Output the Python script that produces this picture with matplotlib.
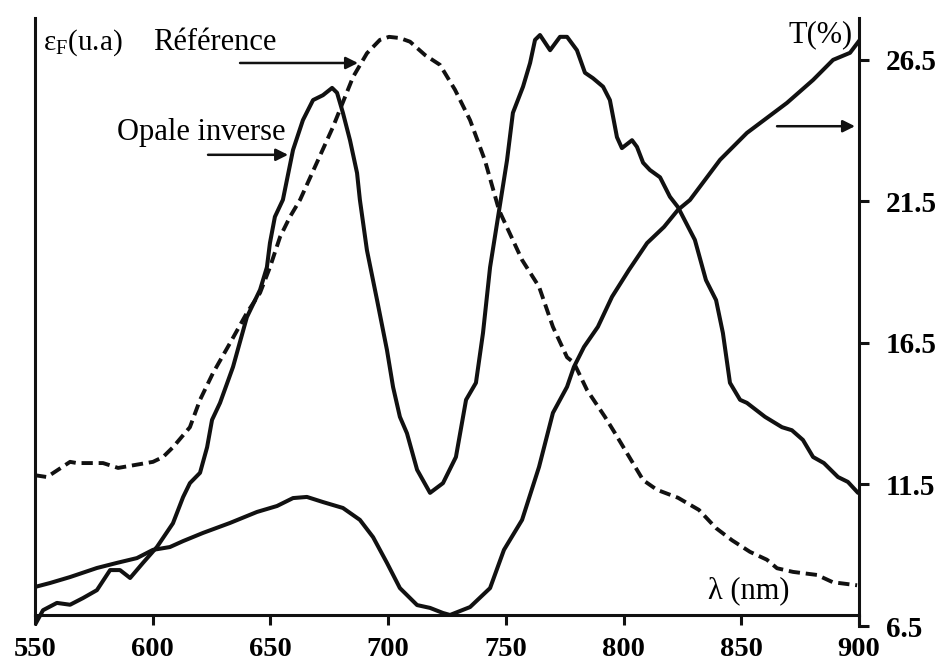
import numpy as np
from matplotlib import pyplot as plt

# ---------------------------------------
# 数据
# ---------------------------------------
# Opale inverse : emission, unites arbitraires (axe de gauche)
opale_nm = [550, 553.4, 559.3, 564.9, 570.4, 576.3, 581.9, 586.1, 590.4, 595.9,
            601.8, 608.6, 612.9, 615.8, 620.1, 623.1, 625.2, 628.6, 634.1, 640.0,
            645.6, 648.5, 649.8, 651.9, 655.3, 659.6, 663.8, 668.1, 672.3, 676.2,
            678.3, 680.8, 683.8, 686.8, 688.0, 691.0, 695.3, 699.5, 702.1, 705.0,
            708.0, 712.3, 717.8, 723.3, 728.8, 733.1, 737.3, 740.3, 743.3, 746.7,
            750.5, 753.0, 757.3, 760.3, 762.4, 764.5, 768.8, 773.0, 776.0, 780.2,
            783.6, 787.0, 791.3, 794.2, 797.2, 799.3, 803.6, 805.7, 808.3, 811.2,
            815.5, 819.7, 823.1, 830.3, 835.0, 839.3, 842.2, 845.2, 849.5, 852.4,
            860.1, 867.3, 871.5, 876.2, 880.5, 885.1, 891.1, 895.3, 899.6]
opale_val = [0.2, 2.6, 3.8, 3.5, 4.6, 5.9, 9.2, 9.2, 7.9, 10.4,
             13.0, 16.9, 21.2, 23.5, 25.2, 29.4, 33.9, 36.7, 42.6, 50.8,
             55.3, 59.0, 63.0, 67.3, 70.1, 78.3, 83.2, 86.5, 87.3, 88.5,
             87.7, 84.4, 79.9, 74.5, 70.1, 61.8, 53.6, 45.4, 39.3, 34.4,
             31.7, 25.7, 21.9, 23.5, 27.8, 37.2, 40.0, 48.2, 59.0, 67.3,
             76.6, 84.4, 88.7, 92.6, 96.4, 97.2, 94.7, 96.9, 96.9, 94.7,
             91.0, 90.1, 88.7, 86.5, 80.4, 78.6, 79.9, 78.8, 76.2, 75.0,
             73.8, 70.6, 68.9, 63.5, 56.9, 53.6, 48.2, 40.0, 37.2, 36.7,
             34.4, 32.7, 32.2, 30.6, 27.8, 26.8, 24.5, 23.7, 21.9]

# Reference : emission, unites arbitraires (axe de gauche)
ref_nm = [550, 555.1, 564.9, 567.8, 578.9, 585.3, 600.1, 604.4, 608.6, 615.8,
          620.1, 625.6, 632.8, 640.0, 645.6, 649.8, 654.1, 658.3, 662.6, 676.6,
          685.1, 691.0, 696.5, 700.4, 705.0, 709.3, 715.7, 722.0, 728.4, 734.8,
          741.1, 747.1, 756.9, 764.1, 770.0, 776.0, 778.9, 784.5, 792.1, 796.4,
          808.3, 814.2, 823.1, 832.0, 839.3, 846.1, 853.7, 860.9, 865.2, 872.0,
          882.2, 888.9, 899.2]
ref_val = [24.8, 24.5, 27.0, 26.8, 26.8, 26.0, 27.0, 27.8, 29.4, 32.7,
           37.2, 41.6, 46.5, 51.5, 54.8, 59.0, 64.0, 67.3, 70.1, 82.1,
           90.3, 94.2, 96.4, 96.9, 96.7, 96.1, 93.9, 92.3, 88.2, 83.2,
           76.6, 68.4, 60.2, 55.8, 49.2, 44.2, 43.3, 38.8, 34.4, 31.7,
           24.0, 22.4, 21.1, 19.1, 16.1, 14.1, 12.2, 10.9, 9.5, 8.9,
           8.4, 7.2, 6.7]

# Transmission T(%) (axe de droite)
trans_nm = [550, 556.4, 564.9, 576.3, 584.8, 593.3, 600.1, 607.3, 612.9, 621.4,
            632.8, 644.3, 652.8, 659.6, 665.5, 672.3, 680.8, 688.0, 693.6, 699.5,
            705.0, 712.3, 717.8, 723.3, 726.3, 734.8, 743.3, 749.2, 756.9, 764.1,
            770.0, 776.0, 778.9, 783.2, 789.1, 795.1, 802.3, 810.0, 817.2, 823.1,
            828.2, 841.0, 852.4, 869.4, 880.5, 889.0, 896.2, 900.4]
trans_val = [7.88, 8.02, 8.23, 8.55, 8.73, 8.90, 9.19, 9.29, 9.50, 9.79,
             10.14, 10.53, 10.74, 11.02, 11.06, 10.88, 10.67, 10.25, 9.64, 8.73,
             7.84, 7.24, 7.14, 6.96, 6.89, 7.17, 7.84, 9.19, 10.25, 12.12,
             14.03, 14.95, 15.65, 16.36, 17.07, 18.13, 19.08, 20.03, 20.60, 21.20,
             21.55, 22.97, 23.92, 24.98, 25.79, 26.50, 26.75, 27.21]

x_ticks = [550, 600, 650, 700, 750, 800, 850, 900]
t_ticks = [6.5, 11.5, 16.5, 21.5, 26.5]
t_tick_labels = ['6.5', '11.5', '16.5', '21.5', '26.5']

plt.rcParams['font.family'] = ['Liberation Serif', 'DejaVu Serif']
plt.rcParams['mathtext.fontset'] = 'custom'
plt.rcParams['mathtext.rm'] = 'Liberation Serif'

fig = plt.figure(figsize=(9.46, 6.64), dpi=100)
ax = fig.add_axes([0.037, 0.0572, 0.871, 0.9157])
ax2 = ax.twinx()

lw = 2.9
ax.plot(opale_nm, opale_val, color='#111111', lw=lw, solid_joinstyle='round', solid_capstyle='round')
ax.plot(ref_nm, ref_val, color='#111111', lw=2.8, linestyle=(0, (2.9, 1.5)))
ax2.plot(trans_nm, trans_val, color='#111111', lw=lw, solid_joinstyle='round', solid_capstyle='round')

ax.set_xlim(550, 900)
ax.set_ylim(0, 100)
ax2.set_ylim(6.5, 27.98)

# 轴线
for s in ['top', 'right']:
    ax.spines[s].set_visible(False)
for s in ['top', 'left', 'bottom']:
    ax2.spines[s].set_visible(False)
ax.spines['bottom'].set_position(('outward', -7.9))
ax.spines['left'].set_bounds(1.8, 100)
for sp in [ax.spines['bottom'], ax.spines['left'], ax2.spines['right']]:
    sp.set_linewidth(2.2)
    sp.set_color('#111111')

ax.set_xticks(x_ticks)
ax.set_xticklabels([str(v) for v in x_ticks], fontsize=20.5, fontweight='bold')
ax.tick_params(axis='x', direction='out', length=7.2, width=2.2, pad=8.5, color='#111111')
ax.set_yticks([])

ax2.set_yticks(t_ticks)
ax2.set_yticklabels(t_tick_labels, fontsize=21, fontweight='bold')
ax2.tick_params(axis='y', direction='out', length=7.2, width=2.2, pad=12, color='#111111')

# 文字和箭头
ax.text(553.4, 95.9, r'$\mathrm{ε}_{\mathrm{F}}$(u.a)', fontsize=21, ha='left', va='center')
ax.text(626.5, 95.9, 'Référence', fontsize=22, ha='center', va='center')
ax.text(620.5, 81.2, 'Opale inverse', fontsize=22, ha='center', va='center')
ax.text(897.4, 97.2, 'T(%)', fontsize=22, ha='right', va='center')
ax.text(853.3, 5.8, 'λ (nm)', fontsize=22, ha='center', va='center')

arrow = dict(arrowstyle='-|>', color='#111111', lw=1.8, mutation_scale=18, shrinkA=0, shrinkB=0)
ax.annotate('', xy=(687.2, 92.6), xytext=(637.1, 92.6), arrowprops=arrow)
ax.annotate('', xy=(657.5, 77.5), xytext=(623.5, 77.5), arrowprops=arrow)
ax.annotate('', xy=(898.3, 82.2), xytext=(865.2, 82.2), arrowprops=arrow)

plt.savefig('out.png', dpi=100)
